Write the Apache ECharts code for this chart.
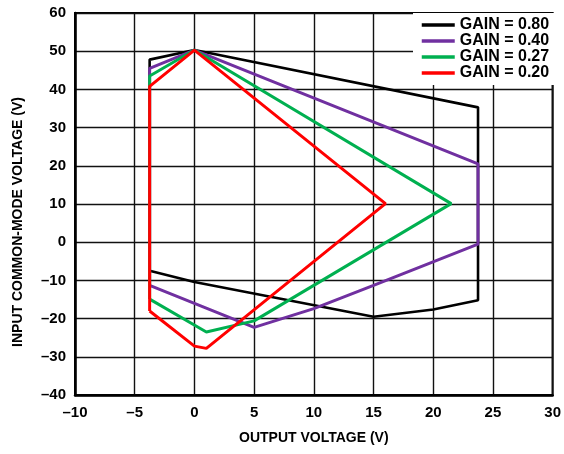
<!DOCTYPE html>
<html>
<head>
<meta charset="utf-8">
<script src="https://cdn.jsdelivr.net/npm/echarts@6/dist/echarts.min.js"></script>
<style>
  html, body { margin: 0; padding: 0; background: #fff; }
  #chart { width: 564px; height: 454px; }
</style>
</head>
<body>
<div id="chart"></div>
<script>
// [output voltage, input common-mode voltage]
const gain080 = [[-3.75, -7.5], [-3.75, 47.8], [0, 50.3], [23.75, 35.3], [23.75, -15.2],
  [20, -17.6], [15, -19.5], [0, -10.4], [-3.75, -7.5]]
const gain040 = [[-3.75, -11.3], [-3.75, 45.5], [0, 50.3], [23.75, 20.5], [23.75, -0.5],
  [15, -11.3], [10, -17.4], [5, -22.3], [-3.75, -11.3]]
const gain027 = [[-3.75, -14.9], [-3.75, 43.5], [0, 50.3], [21.5, 10.1], [5, -20.6],
  [1, -23.5], [-3.75, -14.9]]
const gain020 = [[-3.75, -18], [-3.75, 40.8], [0, 50.3], [16, 10.1], [1, -27.8],
  [0, -27.2], [-3.75, -18]]

const seriesNames = ['GAIN = 0.80', 'GAIN = 0.40', 'GAIN = 0.27', 'GAIN = 0.20']
const seriesData = [gain080, gain040, gain027, gain020]
const colors = ['#000000', '#7030a0', '#00b050', '#ff0000']

const dash = v => String(v).replace('-', '\u2013')
const font = 'Arial, "Liberation Sans", sans-serif'

const chart = echarts.init(document.getElementById('chart'), null, { renderer: 'canvas' })

const series = seriesData.map((d, i) => ({
  name: seriesNames[i],
  type: 'line',
  data: d,
  symbol: 'none',
  animation: false,
  lineStyle: { color: colors[i], width: i === 0 ? 2.6 : 3 },
  itemStyle: { color: colors[i] }
}))

chart.setOption({
  backgroundColor: '#fff',
  animation: false,
  grid: {
    left: 75, right: 9, top: 13, bottom: 59,
    show: true, borderColor: '#000', borderWidth: 2
  },
  legend: {
    data: seriesNames,
    orient: 'vertical',
    left: 413, top: 13,
    backgroundColor: '#fff',
    padding: [4, 6, 4, 7],
    itemWidth: 33, itemHeight: 10, itemGap: 0,
    textStyle: { fontFamily: font, fontWeight: 'bold', fontSize: 16, color: '#000', lineHeight: 16 },
    lineStyle: { width: 3.5 },
    itemStyle: { opacity: 0 }
  },
  xAxis: {
    type: 'value', min: -10, max: 30, interval: 5,
    name: 'OUTPUT VOLTAGE (V)', nameLocation: 'middle', nameGap: 36,
    nameTextStyle: { fontFamily: font, fontWeight: 'bold', fontSize: 14, color: '#000' },
    axisLine: { onZero: false, lineStyle: { color: '#000', width: 2.5 } },
    axisTick: { show: false },
    axisLabel: { fontFamily: font, fontWeight: 'bold', fontSize: 15, color: '#000', margin: 10, formatter: dash },
    splitLine: { lineStyle: { color: '#111', width: 1.4 } }
  },
  yAxis: {
    type: 'value', min: -40, max: 60, interval: 10,
    name: 'INPUT COMMON-MODE VOLTAGE (V)', nameLocation: 'middle', nameGap: 50,
    nameTextStyle: { fontFamily: font, fontWeight: 'bold', fontSize: 14, color: '#000', padding: [0, 36, 0, 0] },
    axisLine: { onZero: false, lineStyle: { color: '#000', width: 2.5 } },
    axisTick: { show: false },
    axisLabel: { fontFamily: font, fontWeight: 'bold', fontSize: 15, color: '#000', margin: 9, formatter: dash },
    splitLine: { lineStyle: { color: '#111', width: 1.4 } }
  },
  series: series
})
</script>
</body>
</html>
